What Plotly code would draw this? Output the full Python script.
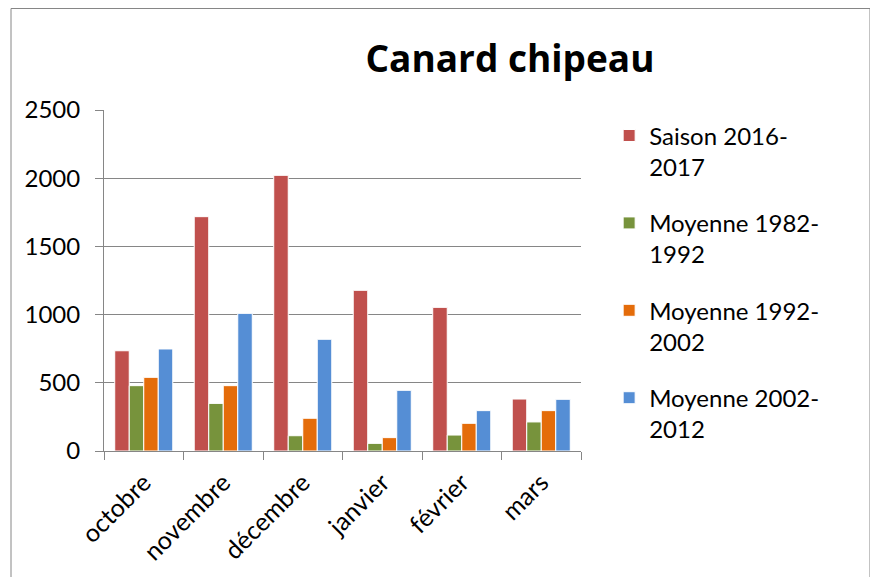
import plotly.graph_objects as go

mois = ['octobre', 'novembre', 'décembre', 'janvier', 'février', 'mars']
saison_2016_2017 = [735, 1718, 2021, 1178, 1053, 381]
moyenne_1982_1992 = [479, 349, 112, 56, 117, 213]
moyenne_1992_2002 = [540, 479, 240, 98, 203, 296]
moyenne_2002_2012 = [748, 1009, 819, 445, 296, 379]

series = [
    ('Saison 2016-<br>2017', saison_2016_2017, '#C0504D'),
    ('Moyenne 1982-<br>1992', moyenne_1982_1992, '#77933C'),
    ('Moyenne 1992-<br>2002', moyenne_1992_2002, '#E46C0A'),
    ('Moyenne 2002-<br>2012', moyenne_2002_2012, '#558ED5'),
]

police = 'Lato'
gris = '#868686'

fig = go.Figure()
for i, (nom, valeurs, couleur) in enumerate(series):
    fig.add_trace(go.Bar(x=mois, y=valeurs, name=nom, legendgroup=str(i),
                         marker=dict(color=couleur, line=dict(color='white', width=1))))

# la page ajoute 8 px de marge autour du graphique : figure un peu plus petite
fig.update_layout(
    width=870, height=569,
    margin=dict(l=96, r=297, t=102, b=126, autoexpand=False),
    paper_bgcolor='white', plot_bgcolor='white',
    font=dict(family=police, size=24, color='black'),
    barmode='group', bargap=0.27, bargroupgap=0,
    title=dict(text='<b>Canard chipeau</b>', font=dict(family='Open Sans', size=37, color='black'),
               x=0.577, xanchor='center', y=0.911, yanchor='middle'),
    legend=dict(x=1.059, xanchor='left', y=0.99, yanchor='top', valign='top',
                tracegroupgap=22, itemwidth=30, font=dict(size=24)),
    showlegend=True,
)

fig.update_xaxes(type='category', showline=True, linecolor=gris, linewidth=1,
                 ticks='outside', tickson='boundaries', ticklen=8, tickcolor=gris,
                 tickangle=-45, ticklabelstandoff=6, tickfont=dict(size=25),
                 showgrid=False, automargin=False)
fig.update_yaxes(range=[0, 2500], tick0=0, dtick=500, showline=True, linecolor=gris,
                 linewidth=1, ticks='outside', ticklen=8, tickcolor=gris,
                 showgrid=True, gridcolor=gris, gridwidth=1, zeroline=False,
                 ticklabelstandoff=10, automargin=False)

# cadre du graphique
fig.add_shape(type='rect', xref='paper', yref='paper',
              x0=(11 - 104) / 477, x1=(870 - 104) / 477,
              y0=(451 - 620) / 341, y1=(451 - 8.5) / 341,
              line=dict(color=gris, width=1), fillcolor='rgba(0,0,0,0)', layer='below')

fig.write_html('out.html')
